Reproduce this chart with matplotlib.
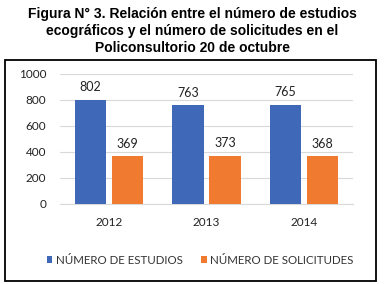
import matplotlib.pyplot as plt
import numpy as np
from matplotlib.patches import Rectangle

# data
years = ['2012', '2013', '2014']
estudios = [802, 763, 765]
solicitudes = [369, 373, 368]
yticks = [0, 200, 400, 600, 800, 1000]

blue = '#4068B8'
orange = '#F07B30'

fig = plt.figure(figsize=(3.85, 2.84), dpi=100)
fig.patch.set_facecolor('white')

# title
fig.text(0.5, 0.975, 'Figura N° 3. Relación entre el número de estudios\n'
         'ecográficos y el número de solicitudes en el\n'
         'Policonsultorio 20 de octubre',
         ha='center', va='top', fontsize=10, fontweight='bold',
         family='Liberation Sans', linespacing=1.28)

# chart frame
fig.patches.append(Rectangle((5 / 385, 1 - 281 / 284), 371 / 385, 221 / 284,
                             transform=fig.transFigure, fill=False,
                             edgecolor='black', linewidth=1.3))

ax = fig.add_axes([60 / 385, 1 - 204 / 284, 293 / 385, 130 / 284])
x = np.arange(len(years))
w = 0.32
off = 0.19
b1 = ax.bar(x - off, estudios, w, color=blue, label='NÚMERO DE ESTUDIOS', zorder=3)
b2 = ax.bar(x + off, solicitudes, w, color=orange, label='NÚMERO DE SOLICITUDES', zorder=3)

for bars in (b1, b2):
    for r in bars:
        ax.annotate(str(int(r.get_height())), (r.get_x() + r.get_width() / 2, r.get_height()),
                    xytext=(0, 4.5), textcoords='offset points', ha='center', va='bottom',
                    fontsize=9, family='Lato', color='#222222')

ax.set_xlim(-0.5, 2.5)
ax.set_ylim(0, 1000)
ax.set_yticks(yticks)
ax.set_xticks(x)
ax.set_xticklabels(years)
ax.grid(axis='y', color='#D9D9D9', linewidth=0.8, zorder=0)
for s in ['top', 'right', 'left']:
    ax.spines[s].set_visible(False)
ax.spines['bottom'].set_color('#D9D9D9')
ax.tick_params(axis='both', length=0, labelsize=8.5, colors='#222222')
ax.tick_params(axis='x', pad=9)
ax.tick_params(axis='y', pad=10)
for lab in ax.get_xticklabels() + ax.get_yticklabels():
    lab.set_family('Lato')

leg = fig.legend(handles=[b1, b2], loc='center', bbox_to_anchor=(0.52, 1 - 260 / 284),
                 ncol=2, frameon=False, prop={'family': 'Lato', 'size': 8.3},
                 handlelength=0.5, handleheight=0.5, handletextpad=0.3, columnspacing=1.6)
for t in leg.get_texts():
    t.set_color('#333333')

fig.savefig('out.png', dpi=100)
